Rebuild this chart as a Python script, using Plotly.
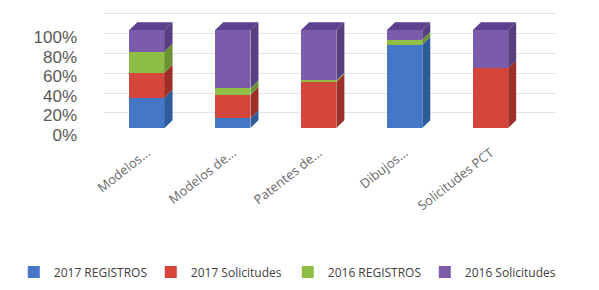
import plotly.graph_objects as go

categories = ["Modelos…", "Modelos de…", "Patentes de…", "Dibujos…", "Solicitudes PCT"]
series_names = ["2017 REGISTROS", "2017 Solicitudes", "2016 REGISTROS", "2016 Solicitudes"]
reg_2017 = [31, 10, 0, 85, 0]
sol_2017 = [25.5, 24, 47, 0, 61]
reg_2016 = [21.5, 6.5, 1.5, 5, 0]
sol_2016 = [22, 59.5, 51.5, 10, 39]
y_ticks = [0, 20, 40, 60, 80, 100]
y_tick_labels = ["0%", "20%", "40%", "60%", "80%", "100%"]

front_colors = ["#4478C6", "#D4463C", "#8FBE46", "#7B5CAB"]
side_colors = ["#2E5B9A", "#9E2F28", "#6A9132", "#583F82"]
top_color = "#5C418E"

series_values = [reg_2017, sol_2017, reg_2016, sol_2016]
xs = list(range(len(categories)))
bar_w = 0.41
dx = 0.093   # 3D depth offset in category units
dy = 8.0     # 3D depth offset in percent units

fig = go.Figure()
for name, vals, col in zip(series_names, series_values, front_colors):
    fig.add_trace(go.Bar(x=xs, y=vals, name=name, marker=dict(color=col, line=dict(width=0)),
                         width=bar_w))

# invisible trace to activate back-wall grid axis
fig.add_trace(go.Scatter(x=[], y=[], yaxis="y2", showlegend=False, hoverinfo="skip"))

shapes = []
for i in xs:
    base = 0.0
    xr = i + bar_w / 2
    xl = i - bar_w / 2
    for vals, sc in zip(series_values, side_colors):
        v = vals[i]
        if v > 0:
            y0, y1 = base, base + v
            shapes.append(dict(type="path", xref="x", yref="y", layer="above",
                               path=f"M {xr},{y0} L {xr+dx},{y0+dy} L {xr+dx},{y1+dy} L {xr},{y1} Z",
                               fillcolor=sc, line=dict(width=0)))
            base = y1
    shapes.append(dict(type="path", xref="x", yref="y", layer="above",
                       path=f"M {xl},{base} L {xl+dx},{base+dy} L {xr+dx},{base+dy} L {xr},{base} Z",
                       fillcolor=top_color, line=dict(width=0)))

fig.update_layout(
    width=599, height=290,
    margin=dict(l=104, r=44, t=10, b=162, autoexpand=False),
    paper_bgcolor="white", plot_bgcolor="white",
    barmode="stack", bargap=0.6,
    shapes=shapes,
    showlegend=True,
    legend=dict(orientation="h", xref="paper", yref="paper", x=-0.2, xanchor="left",
                y=-1.22, yanchor="middle", font=dict(family="Open Sans", size=12, color="#404040"),
                itemwidth=30, entrywidth=92, entrywidthmode="pixels",
                tracegroupgap=0, traceorder="normal"),
    xaxis=dict(range=[-0.5, 4.75], tickvals=xs, ticktext=categories, tickangle=-38,
               showgrid=False, zeroline=False, showline=False, ticks="",
               tickfont=dict(family="Open Sans", size=13, color="#6a6a6a"), ticklabelstandoff=14),
    yaxis=dict(range=[0, 120.4], tickvals=y_ticks, ticktext=y_tick_labels, showgrid=False,
               zeroline=False, showline=False, ticks="", ticklabelshift=7, ticklabelstandoff=26,
               tickfont=dict(family="Liberation Sans", size=17, color="#595959")),
    yaxis2=dict(range=[-15.2, 104], overlaying="y", anchor="x", side="left", tickvals=y_ticks,
                showticklabels=False, showgrid=True, gridcolor="#E3E3E3", gridwidth=1,
                zeroline=False, showline=False, ticks=""),
)

fig.write_html("out.html", config={"displayModeBar": False},
               post_script="document.body.style.margin='0';")
